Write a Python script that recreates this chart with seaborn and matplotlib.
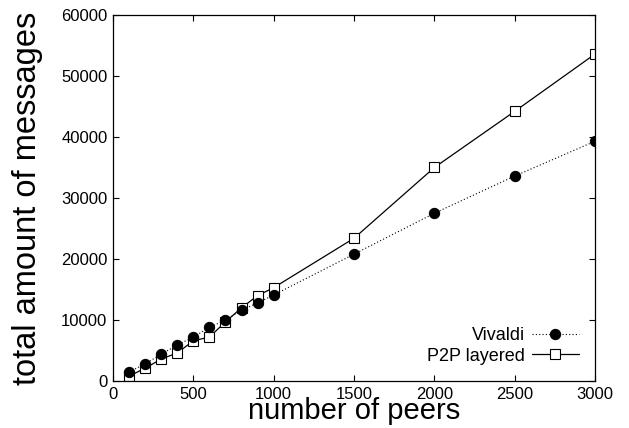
import matplotlib
matplotlib.use('Agg')
import matplotlib.pyplot as plt
import numpy as np
import seaborn as sns

peers = [100, 200, 300, 400, 500, 600, 700, 800, 900, 1000, 1500, 2000, 2500, 3000]
vivaldi = [1500, 2800, 4400, 5900, 7200, 8800, 10000, 11600, 12800, 14100, 20800, 27500, 33600, 39300]
p2p_layered = [800, 2100, 3600, 4600, 6600, 7200, 9700, 12000, 14000, 15300, 23400, 35000, 44200, 53600]

sns.set_style("ticks", {'text.color': 'black', 'axes.labelcolor': 'black',
                        'xtick.color': 'black', 'ytick.color': 'black',
                        'axes.edgecolor': 'black'})
plt.rcParams['font.family'] = ['Liberation Sans', 'DejaVu Sans']

fig = plt.figure(figsize=(6.29, 4.28), dpi=100)
ax = fig.add_axes([0.1797, 0.1098, 0.7663, 0.8552])

# squares first so the filled circles sit on top, like the original
sns.lineplot(x=peers, y=p2p_layered, ax=ax, color='black', linestyle='-', linewidth=0.9,
             marker='s', markersize=7.8, markerfacecolor='white', markeredgecolor='black',
             markeredgewidth=0.8, label='P2P layered')
sns.lineplot(x=peers, y=vivaldi, ax=ax, color='black', linestyle=(0, (1, 2)), linewidth=0.8,
             marker='o', markersize=7.4, markerfacecolor='black', markeredgecolor='black',
             label='Vivaldi')

ax.set_xlim(0, 3000)
ax.set_ylim(0, 60000)
ax.set_xticks(np.arange(0, 3001, 500))
ax.set_yticks(np.arange(0, 60001, 10000))
ax.tick_params(direction='in', top=True, right=True, labelsize=12, length=4, width=0.8, pad=4)
for s in ax.spines.values():
    s.set_linewidth(0.9)
ax.set_xlabel('number of peers', fontsize=21)
ax.xaxis.label.set_va('baseline')
ax.xaxis.set_label_coords(0.5, -0.104)
ax.set_ylabel('total amount of messages', fontsize=23.5, labelpad=13)

handles, labels = ax.get_legend_handles_labels()
ax.legend(handles[::-1], labels[::-1], loc='lower right', frameon=False, markerfirst=False,
          fontsize=13, handlelength=2.6, handletextpad=0.4, labelspacing=0.2, borderaxespad=0.5)

fig.savefig('out.png', dpi=100)
